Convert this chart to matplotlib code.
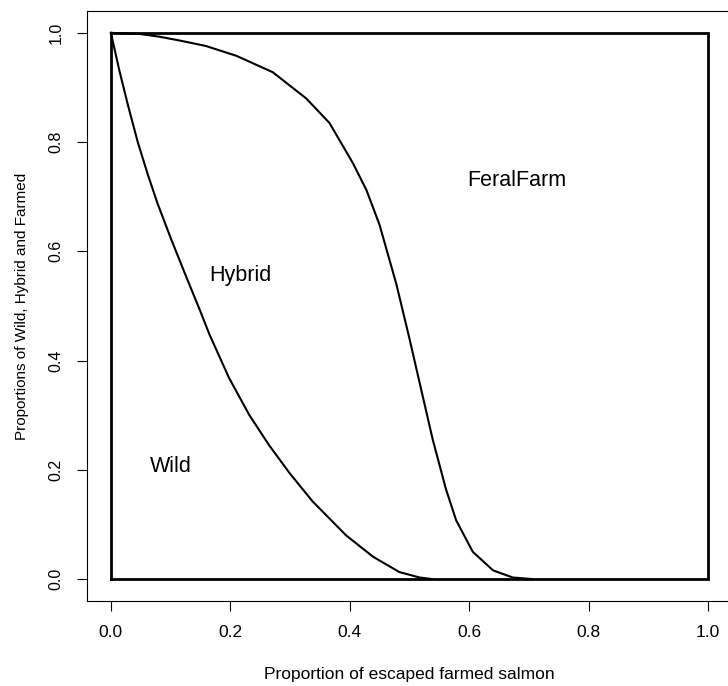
import matplotlib
matplotlib.use("Agg")
import matplotlib.pyplot as plt

plt.rcParams['font.family'] = ['Liberation Sans', 'DejaVu Sans']

# proportion of escaped farmed salmon vs cumulative proportions
wild_x = [0, 0.014, 0.028, 0.045, 0.062, 0.078, 0.101, 0.123, 0.151, 0.165, 0.198,
          0.232, 0.265, 0.3, 0.338, 0.394, 0.439, 0.483, 0.517, 0.539]
wild_y = [1.0, 0.932, 0.870, 0.800, 0.740, 0.688, 0.622, 0.562, 0.487, 0.448, 0.368,
          0.300, 0.245, 0.193, 0.142, 0.080, 0.041, 0.013, 0.003, 0.0]

hybrid_x = [0, 0.048, 0.081, 0.115, 0.159, 0.21, 0.271, 0.327, 0.366, 0.405, 0.428,
            0.45, 0.478, 0.5, 0.52, 0.539, 0.561, 0.578, 0.606, 0.64, 0.673, 0.707]
hybrid_y = [1.0, 0.998, 0.993, 0.986, 0.976, 0.958, 0.928, 0.880, 0.835, 0.762, 0.712,
            0.648, 0.540, 0.44, 0.345, 0.255, 0.165, 0.108, 0.050, 0.016, 0.003, 0.0]

box_x = [0, 1, 1, 0, 0]
box_y = [0, 0, 1, 1, 0]

region_labels = ["Wild", "Hybrid", "FeralFarm"]
label_x = [0.1, 0.216, 0.68]
label_y = [0.207, 0.555, 0.73]

fig = plt.figure(figsize=(7.28, 6.86), dpi=100)
ax = fig.add_axes([87 / 728, 85 / 686, 645 / 728, 590 / 686])

ax.plot(box_x, box_y, color="black", lw=2.0, solid_joinstyle="miter")
ax.plot(wild_x, wild_y, color="black", lw=1.5, solid_joinstyle="round")
ax.plot(hybrid_x, hybrid_y, color="black", lw=1.5, solid_joinstyle="round")

for lab, x, y in zip(region_labels, label_x, label_y):
    ax.text(x, y, lab, ha="center", va="center", fontsize=15.5)

ax.set_xlim(-0.04, 1.04)
ax.set_ylim(-0.04, 1.04)
ticks = [0.0, 0.2, 0.4, 0.6, 0.8, 1.0]
ax.set_xticks(ticks)
ax.set_yticks(ticks)
ax.set_xticklabels([f"{t:.1f}" for t in ticks], fontsize=12.5)
ax.set_yticklabels([f"{t:.1f}" for t in ticks], fontsize=11.5, rotation=90, va="center")
ax.tick_params(direction="out", length=7, width=0.8, pad=10)
for s in ax.spines.values():
    s.set_linewidth(0.8)

ax.set_xlabel("Proportion of escaped farmed salmon", fontsize=12.5, labelpad=20)
ax.set_ylabel("Proportions of Wild, Hybrid and Farmed", fontsize=11, labelpad=14)

fig.savefig("out.png", dpi=100)
